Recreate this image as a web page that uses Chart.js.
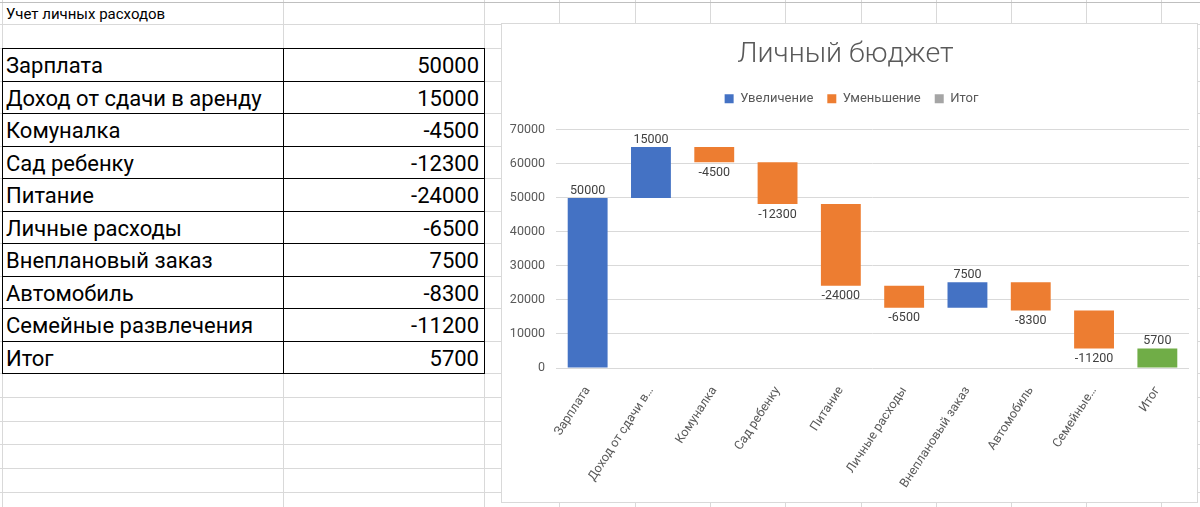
<!DOCTYPE html>
<html>
<head>
<meta charset="utf-8">
<script src="https://cdn.jsdelivr.net/npm/chart.js"></script>
<style>
  body { margin: 0; width: 1200px; height: 507px; overflow: hidden; background: #fff; position: relative;
         font-family: Roboto, "Noto Sans", sans-serif; }
  .gl { position: absolute; background: #d9d9d9; }
  .bl { position: absolute; background: #000; }
  .cell { position: absolute; height: 32px; line-height: 35px; font-size: 22px; color: #000; white-space: nowrap; }
  #caption { position: absolute; left: 6px; top: 4px; font-size: 15px; line-height: 20px; color: #000; }
  #box { position: absolute; left: 501px; top: 23px; width: 697px; height: 480px; background: #fff;
         border: 1px solid #d9d9d9; box-sizing: border-box; }
  #box canvas { display: block; }
</style>
</head>
<body>
<div id="sheet"></div>
<div id="caption">Учет личных расходов</div>
<div id="box"><canvas id="budget" width="695" height="478"></canvas></div>
<script>
// table / chart data
const categories = ['Зарплата', 'Доход от сдачи в аренду', 'Комуналка', 'Сад ребенку', 'Питание',
  'Личные расходы', 'Внеплановый заказ', 'Автомобиль', 'Семейные развлечения', 'Итог'];
const amounts = [50000, 15000, -4500, -12300, -24000, -6500, 7500, -8300, -11200, 5700];
const tickLabels = ['Зарплата', 'Доход от сдачи в…', 'Комуналка', 'Сад ребенку', 'Питание',
  'Личные расходы', 'Внеплановый заказ', 'Автомобиль', 'Семейные…', 'Итог'];
const seriesNames = ['Увеличение', 'Уменьшение', 'Итог'];
const yTicks = [0, 10000, 20000, 30000, 40000, 50000, 60000, 70000];

// spreadsheet grid
const colX = [2, 283, 484, 559, 635, 710, 785, 861, 936, 1011, 1086, 1161];
const rowY = [2, 24, 48, 80.5, 113, 145.5, 178, 210.5, 243, 275.5, 308, 340.5, 373, 397, 420.5, 444, 468, 491.5];
const sheet = document.getElementById('sheet');

function addDiv(cls, l, t, w, h) {
  const d = document.createElement('div');
  d.className = cls;
  d.style.left = l + 'px'; d.style.top = t + 'px';
  d.style.width = w + 'px'; d.style.height = h + 'px';
  sheet.appendChild(d);
  return d;
}

colX.forEach(x => addDiv('gl', x, 0, 1, 507));
rowY.forEach(y => addDiv('gl', 0, y, 1200, 1));
addDiv('gl', 0, 2, 1200, 1).style.background = '#bfbfbf';

// table borders
const tTop = 48, tBottom = 373, tLeft = 2, tRight = 484, tMid = 283;
for (let i = 0; i <= categories.length; i++) {
  addDiv('bl', tLeft, tTop + i * 32.5, tRight - tLeft + 1, 1);
}
[tLeft, tMid, tRight].forEach(x => addDiv('bl', x, tTop, 1, tBottom - tTop + 1));

categories.forEach((name, i) => {
  const y = tTop + i * 32.5;
  const a = addDiv('cell', 6, y, 270, 32);
  a.textContent = name;
  const b = addDiv('cell', tMid + 2, y, tRight - tMid - 7, 32);
  b.style.textAlign = 'right';
  b.textContent = amounts[i];
});

// floating ranges for the waterfall
const incData = [], decData = [], totData = [];
let run = 0;
amounts.forEach((v, i) => {
  if (i === amounts.length - 1) {
    incData.push(null); decData.push(null); totData.push([0, v]);
    return;
  }
  totData.push(null);
  if (v >= 0) { incData.push([run, run + v]); decData.push(null); }
  else { decData.push([run + v, run]); incData.push(null); }
  run += v;
});

const txt = '#595959';
const fontFamily = 'Roboto, "Noto Sans", sans-serif';

// value labels: above bars that go up, below bars that go down
const valueLabels = {
  id: 'valueLabels',
  afterDatasetsDraw(chart) {
    const ctx = chart.ctx;
    ctx.save();
    ctx.font = '12.5px ' + fontFamily;
    ctx.fillStyle = '#404040';
    ctx.textAlign = 'center';
    ctx.textBaseline = 'middle';
    chart.data.datasets.forEach((ds, di) => {
      chart.getDatasetMeta(di).data.forEach((bar, i) => {
        if (!ds.data[i]) return;
        const top = Math.min(bar.y, bar.base), bottom = Math.max(bar.y, bar.base);
        const v = amounts[i];
        const y = v < 0 ? bottom + 10.5 : top - 7.5;
        ctx.fillText(String(v), bar.x, y);
      });
    });
    ctx.restore();
  }
};

// extra space under the legend and a small shift right, as in the Excel layout
const legendGap = {
  id: 'legendGap',
  beforeInit(chart) {
    const lg = chart.legend;
    if (!lg) return;
    const fit = lg.fit;
    lg.fit = function () { fit.call(this); this.height += 14.7; };
    const draw = lg.draw;
    lg.draw = function () {
      const ctx = this.ctx;
      ctx.save();
      ctx.translate(6, 0);
      draw.call(this);
      ctx.restore();
    };
  }
};

new Chart(document.getElementById('budget'), {
  type: 'bar',
  data: {
    labels: tickLabels,
    datasets: [
      { label: seriesNames[0], data: incData, backgroundColor: '#4472C4' },
      { label: seriesNames[1], data: decData, backgroundColor: '#ED7D31' },
      { label: seriesNames[2], data: totData, backgroundColor: '#70AD47' }
    ]
  },
  options: {
    responsive: false,
    animation: false,
    devicePixelRatio: 1,
    layout: { padding: { left: 0, right: 8, top: 0, bottom: 0 } },
    datasets: { bar: { grouped: false, categoryPercentage: 1, barPercentage: 0.63 } },
    plugins: {
      title: {
        display: true,
        text: 'Личный бюджет',
        color: txt,
        font: { family: fontFamily, size: 28.5, weight: '300' },
        padding: { top: 14, bottom: 6 }
      },
      legend: {
        display: true,
        labels: {
          boxWidth: 9, boxHeight: 9, padding: 14, color: txt,
          font: { family: fontFamily, size: 13 },
          generateLabels(chart) {
            const items = Chart.defaults.plugins.legend.labels.generateLabels(chart);
            items.forEach(it => {
              if (it.text === 'Итог') it.fillStyle = '#A5A5A5';
              it.lineWidth = 0;
            });
            return items;
          }
        }
      },
      tooltip: { enabled: false }
    },
    scales: {
      x: {
        grid: { display: false },
        border: { display: false },
        ticks: {
          color: txt, font: { family: fontFamily, size: 12.5 },
          minRotation: 57, maxRotation: 57, autoSkip: false, padding: 8
        },
        afterFit(scale) { scale.height = 134; }
      },
      y: {
        min: 0, max: 70000,
        grid: { color: '#d9d9d9', drawTicks: false },
        border: { display: false },
        ticks: {
          stepSize: 10000, color: txt, padding: 11,
          font: { family: fontFamily, size: 12.5 },
          callback: v => yTicks.includes(v) ? String(v) : ''
        },
        afterFit(scale) { scale.width = 54; }
      }
    }
  },
  plugins: [valueLabels, legendGap]
});
</script>
</body>
</html>
